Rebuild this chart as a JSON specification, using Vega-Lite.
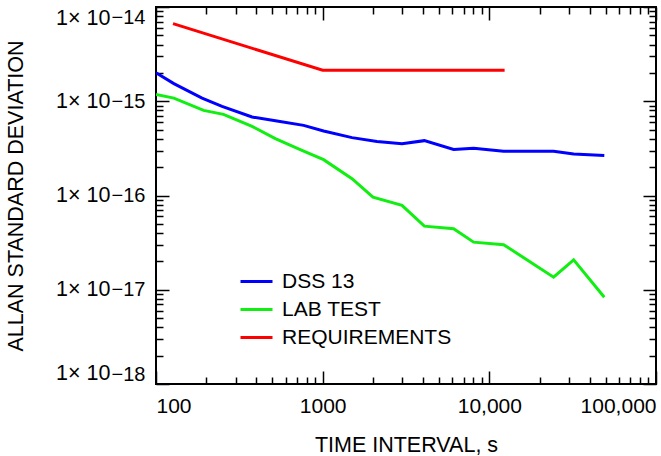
{
  "$schema": "https://vega.github.io/schema/vega-lite/v6.json",
  "width": 500,
  "height": 377,
  "autosize": {"type": "none"},
  "padding": {"left": 156, "top": 7, "right": 5, "bottom": 72},
  "background": "white",
  "data": {
    "values": [
      {"series": "DSS 13", "t": 100, "adev": 2.01e-15},
      {"series": "DSS 13", "t": 128, "adev": 1.54e-15},
      {"series": "DSS 13", "t": 189, "adev": 1.08e-15},
      {"series": "DSS 13", "t": 249, "adev": 8.83e-16},
      {"series": "DSS 13", "t": 377, "adev": 6.80e-16},
      {"series": "DSS 13", "t": 532, "adev": 6.16e-16},
      {"series": "DSS 13", "t": 769, "adev": 5.55e-16},
      {"series": "DSS 13", "t": 1013, "adev": 4.83e-16},
      {"series": "DSS 13", "t": 1500, "adev": 4.11e-16},
      {"series": "DSS 13", "t": 2118, "adev": 3.75e-16},
      {"series": "DSS 13", "t": 2992, "adev": 3.55e-16},
      {"series": "DSS 13", "t": 4074, "adev": 3.82e-16},
      {"series": "DSS 13", "t": 6106, "adev": 3.08e-16},
      {"series": "DSS 13", "t": 8050, "adev": 3.18e-16},
      {"series": "DSS 13", "t": 12180, "adev": 2.94e-16},
      {"series": "DSS 13", "t": 24300, "adev": 2.94e-16},
      {"series": "DSS 13", "t": 32060, "adev": 2.75e-16},
      {"series": "DSS 13", "t": 48960, "adev": 2.65e-16},
      {"series": "LAB TEST", "t": 100, "adev": 1.18e-15},
      {"series": "LAB TEST", "t": 128, "adev": 1.08e-15},
      {"series": "LAB TEST", "t": 193, "adev": 8.0e-16},
      {"series": "LAB TEST", "t": 254, "adev": 7.26e-16},
      {"series": "LAB TEST", "t": 377, "adev": 5.42e-16},
      {"series": "LAB TEST", "t": 520, "adev": 4.01e-16},
      {"series": "LAB TEST", "t": 751, "adev": 3.01e-16},
      {"series": "LAB TEST", "t": 1013, "adev": 2.40e-16},
      {"series": "LAB TEST", "t": 1500, "adev": 1.51e-16},
      {"series": "LAB TEST", "t": 2004, "adev": 9.61e-17},
      {"series": "LAB TEST", "t": 2992, "adev": 7.85e-17},
      {"series": "LAB TEST", "t": 4074, "adev": 4.73e-17},
      {"series": "LAB TEST", "t": 6106, "adev": 4.44e-17},
      {"series": "LAB TEST", "t": 8050, "adev": 3.20e-17},
      {"series": "LAB TEST", "t": 12180, "adev": 3.01e-17},
      {"series": "LAB TEST", "t": 24300, "adev": 1.36e-17},
      {"series": "LAB TEST", "t": 32060, "adev": 2.08e-17},
      {"series": "LAB TEST", "t": 48960, "adev": 8.34e-18},
      {"series": "REQUIREMENTS", "t": 126.5, "adev": 6.67e-15},
      {"series": "REQUIREMENTS", "t": 1000, "adev": 2.13e-15},
      {"series": "REQUIREMENTS", "t": 12350, "adev": 2.13e-15}
    ]
  },
  "layer": [
    {
      "mark": {"type": "line", "strokeWidth": 3, "clip": true},
      "encoding": {
        "x": {
          "field": "t", "type": "quantitative",
          "scale": {"type": "log", "domain": [100, 100000], "nice": false},
          "axis": {
            "orient": "bottom",
            "values": [100, 1000, 10000, 100000],
            "tickSize": -13,
            "labelFlush": true,
            "labelPadding": 24,
            "labelFontSize": 21,
            "labelExpr": "datum.value == 100 ? '100' : datum.value == 1000 ? '1000' : datum.value == 10000 ? '10,000' : '100,000'",
            "title": "TIME INTERVAL, s",
            "titlePadding": 18,
            "titleFontSize": 21.5
          }
        },
        "y": {
          "field": "adev", "type": "quantitative",
          "scale": {"type": "log", "domain": [1e-18, 1e-14], "nice": false},
          "axis": {
            "orient": "left",
            "values": [1e-18, 1e-17, 1e-16, 1e-15, 1e-14],
            "tickSize": -13,
            "labelFlush": true,
            "labelPadding": 59,
            "labelFontSize": 21.5,
            "labelExpr": "'1× 10'",
            "title": "ALLAN STANDARD DEVIATION",
            "titlePadding": 28,
            "titleFontSize": 21.5
          }
        },
        "color": {
          "field": "series", "type": "nominal",
          "scale": {"domain": ["DSS 13", "LAB TEST", "REQUIREMENTS"], "range": ["#0000ff", "#11ee11", "#ff0000"]},
          "legend": {
            "orient": "none", "legendX": 83, "legendY": 257, "title": null,
            "symbolType": "stroke", "symbolSize": 1024, "symbolStrokeWidth": 3,
            "labelFontSize": 21, "labelFont": "Liberation Sans", "labelColor": "black",
            "labelOffset": 8, "labelLimit": 400, "rowPadding": -5, "padding": 0
          }
        }
      }
    },
    {
      "mark": {"type": "point", "opacity": 0},
      "encoding": {
        "x": {"field": "t", "type": "quantitative", "scale": {"type": "log", "domain": [100, 100000], "nice": false},
          "axis": {"orient": "bottom", "values": [200,300,400,500,600,700,800,900,2000,3000,4000,5000,6000,7000,8000,9000,20000,30000,40000,50000,60000,70000,80000,90000], "tickSize": -7, "labels": false, "title": null}},
        "y": {"field": "adev", "type": "quantitative", "scale": {"type": "log", "domain": [1e-18, 1e-14], "nice": false},
          "axis": {"orient": "left", "values": [2e-18,3e-18,4e-18,5e-18,6e-18,7e-18,8e-18,9e-18,2e-17,3e-17,4e-17,5e-17,6e-17,7e-17,8e-17,9e-17,2e-16,3e-16,4e-16,5e-16,6e-16,7e-16,8e-16,9e-16,2e-15,3e-15,4e-15,5e-15,6e-15,7e-15,8e-15,9e-15], "tickSize": -7, "labels": false, "title": null}}
      }
    },
    {
      "mark": {"type": "point", "opacity": 0},
      "encoding": {
        "x": {"field": "t", "type": "quantitative", "scale": {"type": "log", "domain": [100, 100000], "nice": false},
          "axis": {"orient": "top", "values": [100, 1000, 10000, 100000], "tickSize": -13, "labels": false, "title": null}},
        "y": {"field": "adev", "type": "quantitative", "scale": {"type": "log", "domain": [1e-18, 1e-14], "nice": false},
          "axis": {"orient": "right", "values": [1e-18, 1e-17, 1e-16, 1e-15, 1e-14], "tickSize": -13, "labels": false, "title": null}}
      }
    },
    {
      "mark": {"type": "point", "opacity": 0},
      "encoding": {
        "x": {"field": "t", "type": "quantitative", "scale": {"type": "log", "domain": [100, 100000], "nice": false},
          "axis": {"orient": "top", "values": [200,300,400,500,600,700,800,900,2000,3000,4000,5000,6000,7000,8000,9000,20000,30000,40000,50000,60000,70000,80000,90000], "tickSize": -7, "labels": false, "title": null}},
        "y": {"field": "adev", "type": "quantitative", "scale": {"type": "log", "domain": [1e-18, 1e-14], "nice": false},
          "axis": {"orient": "right", "values": [2e-18,3e-18,4e-18,5e-18,6e-18,7e-18,8e-18,9e-18,2e-17,3e-17,4e-17,5e-17,6e-17,7e-17,8e-17,9e-17,2e-16,3e-16,4e-16,5e-16,6e-16,7e-16,8e-16,9e-16,2e-15,3e-15,4e-15,5e-15,6e-15,7e-15,8e-15,9e-15], "tickSize": -7, "labels": false, "title": null}}
      }
    },
    {
      "mark": {"type": "point", "opacity": 0},
      "encoding": {
        "y": {"field": "adev", "type": "quantitative", "scale": {"type": "log", "domain": [1e-18, 1e-14], "nice": false},
          "axis": {"orient": "left", "values": [1e-18, 1e-17, 1e-16, 1e-15, 1e-14], "ticks": false, "labelFlush": true, "labelPadding": 11, "labelDy": -7, "labelFontSize": 20,
            "labelExpr": "'−' + round(-log(datum.value) / LN10)", "title": null}}
      }
    }
  ],
  "resolve": {"axis": {"x": "independent", "y": "independent"}},
  "config": {
    "font": "Liberation Sans",
    "view": {"stroke": "black", "strokeWidth": 2},
    "axis": {
      "labelFont": "Liberation Sans", "titleFont": "Liberation Sans",
      "labelColor": "black", "titleColor": "black", "tickColor": "black",
      "grid": false, "domain": false, "labelOverlap": false, "tickWidth": 1.5,
      "labelFontSize": 20, "titleFontSize": 20, "titleFontWeight": "normal"
    }
  }
}
